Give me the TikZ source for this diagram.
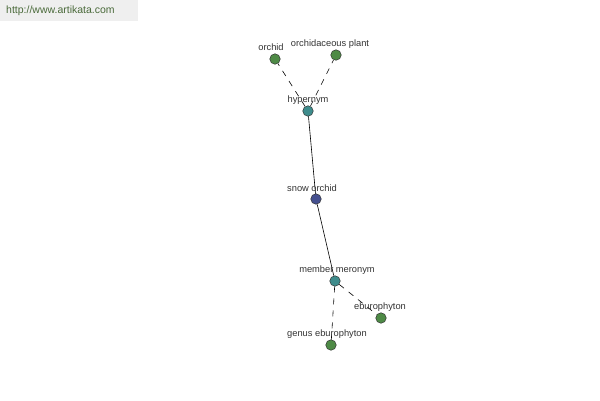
\documentclass[tikz,border=0pt]{standalone}
\usepackage{fontspec}
\setmainfont{Liberation Sans}
\definecolor{gnode}{HTML}{4E8A46}
\definecolor{tnode}{HTML}{3E8C8C}
\definecolor{bnode}{HTML}{45508F}
\definecolor{hdr}{HTML}{EFEFEF}
\definecolor{hdrtxt}{HTML}{4A6A3A}
\definecolor{lbl}{HTML}{333333}
\begin{document}
\begin{tikzpicture}[x=1pt,y=-1pt,
  dot/.style={circle,draw=black!80,line width=0.5pt,minimum size=10.5pt,inner sep=0pt},
  lab/.style={font=\fontsize{9.3}{10}\selectfont,text=lbl,inner sep=0pt},
  rel/.style={draw=black,line width=0.6pt},
  reldash/.style={rel,dash pattern=on 6pt off 6pt}]
\useasboundingbox (0,0) rectangle (600,400);
\fill[hdr] (0,0) rectangle (138,21);
\node[font=\fontsize{10.5}{11}\selectfont,text=hdrtxt,anchor=west,inner sep=0pt] (hdrt) at (6,11) {http://www.artikata.com};
\coordinate (po) at (275,59);
\coordinate (pop) at (336,55);
\coordinate (ph) at (308,111);
\coordinate (ps) at (316,199);
\coordinate (pm) at (335,281);
\coordinate (pe) at (381,318);
\coordinate (pg) at (331,345);
\node[dot,fill=gnode] (orchid) at (po) {};
\node[dot,fill=gnode] (orchidp) at (pop) {};
\node[dot,fill=tnode] (hyper) at (ph) {};
\node[dot,fill=bnode] (snow) at (ps) {};
\node[dot,fill=tnode] (member) at (pm) {};
\node[dot,fill=gnode] (ebu) at (pe) {};
\node[dot,fill=gnode] (genus) at (pg) {};
\path[reldash] (hyper) -- (orchid);
\path[reldash] (hyper) -- (orchidp);
\path[rel] (hyper) -- (snow);
\path[rel] (snow) -- (member);
\path[reldash] (member) -- (ebu);
\path[reldash] (member) -- (genus);
\node[lab] (lorchid) at (271,47) {orchid};
\node[lab] (lorchidp) at (330,44) {orchidaceous plant};
\node[lab] (lhyper) at (308,100) {hypernym};
\node[lab] (lsnow) at (312,188) {snow orchid};
\node[lab] (lmember) at (337,270) {member meronym};
\node[lab] (lebu) at (380,307) {eburophyton};
\node[lab] (lgenus) at (327,334) {genus eburophyton};
\end{tikzpicture}
\end{document}
